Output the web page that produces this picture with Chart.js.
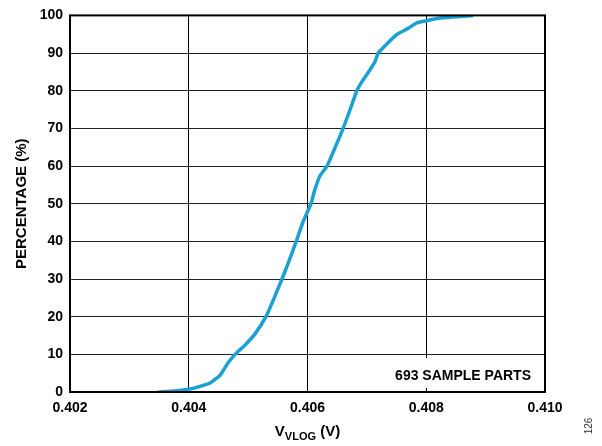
<!DOCTYPE html>
<html>
<head>
<meta charset="utf-8">
<script src="https://cdn.jsdelivr.net/npm/chart.js@4"></script>
<style>
  html, body { margin: 0; padding: 0; background: #fff; }
  #wrap { width: 602px; height: 446px; }
</style>
</head>
<body>
<div id="wrap"><canvas id="cdf"></canvas></div>
<script>
// VLOG values (V) and cumulative percentage
const vlog = [0.40348, 0.40377, 0.40402, 0.40419, 0.40436, 0.40453, 0.40466, 0.40478,
  0.40495, 0.40512, 0.40530, 0.40544, 0.40557, 0.40567, 0.40581, 0.40592, 0.40606,
  0.40611, 0.40621, 0.40633, 0.40643, 0.40660, 0.40675, 0.40683, 0.40692, 0.40700,
  0.40714, 0.40719, 0.40734, 0.40751, 0.40769, 0.40784, 0.40798, 0.40823, 0.40879];
const percent = [0, 0.3, 0.8, 1.5, 2.4, 4.5, 7.7, 10, 12.5, 15.5, 20, 25, 30, 34, 40,
  45, 50, 53, 57.4, 60, 63.6, 70, 76.4, 80, 82.5, 84.3, 87.8, 90, 92.5, 95, 96.5, 98,
  98.5, 99.3, 100];
const xTicks = [0.402, 0.404, 0.406, 0.408, 0.410];

const font = "'Liberation Sans', Arial, sans-serif";
const lineColor = '#1ba0d4';

// titles, note box and figure number
const extras = {
    id: 'extras',
    afterDraw(chart) {
        const ctx = chart.ctx;
        const area = chart.chartArea;
        ctx.save();
        ctx.fillStyle = '#000';
        ctx.textBaseline = 'middle';

        // note box
        ctx.font = 'bold 14px ' + font;
        const note = '693 SAMPLE PARTS';
        const w = ctx.measureText(note).width;
        ctx.fillStyle = '#fff';
        ctx.fillRect(area.right - w - 22, 358, w + 21, 30);
        ctx.fillStyle = '#000';
        ctx.textAlign = 'right';
        ctx.fillText(note, area.right - 14, 376);

        // x title with subscript
        const cx = (area.left + area.right) / 2;
        ctx.font = 'bold 11px ' + font;
        const sub = 'VLOG';
        const ws = ctx.measureText(sub).width;
        ctx.font = 'bold 15px ' + font;
        const a = 'V', b = ' (V)';
        const wa = ctx.measureText(a).width, wb = ctx.measureText(b).width;
        const x0 = cx - (wa + ws + wb) / 2;
        ctx.textAlign = 'left';
        ctx.fillText(a, x0, 432);
        ctx.font = 'bold 11px ' + font;
        ctx.fillText(sub, x0 + wa, 437);
        ctx.font = 'bold 15px ' + font;
        ctx.fillText(b, x0 + wa + ws, 432);

        // y title
        ctx.save();
        ctx.translate(22, (area.top + area.bottom) / 2);
        ctx.rotate(-Math.PI / 2);
        ctx.textAlign = 'center';
        ctx.fillText('PERCENTAGE (%)', 0, 0);
        ctx.restore();

        // figure number
        ctx.save();
        ctx.translate(589, 426);
        ctx.rotate(-Math.PI / 2);
        ctx.font = '10px ' + font;
        ctx.fillStyle = '#333';
        ctx.textAlign = 'center';
        ctx.fillText('126', 0, 0);
        ctx.restore();

        // frame on top
        ctx.strokeStyle = '#000';
        ctx.lineWidth = 2;
        ctx.strokeRect(area.left, area.top, area.right - area.left, area.bottom - area.top);
        ctx.restore();
    }
};

new Chart(document.getElementById('cdf'), {
    type: 'line',
    data: {
        datasets: [{
            data: vlog.map((v, i) => ({ x: v, y: percent[i] })),
            borderColor: lineColor,
            borderWidth: 3.5,
            pointRadius: 0,
            tension: 0.15,
            fill: false
        }]
    },
    options: {
        responsive: true,
        maintainAspectRatio: false,
        animation: false,
        layout: { padding: { left: 0, right: 57, top: 14, bottom: 0 } },
        plugins: { legend: { display: false }, tooltip: { enabled: false } },
        scales: {
            x: {
                type: 'linear',
                min: 0.402,
                max: 0.410,
                afterBuildTicks: s => { s.ticks = xTicks.map(v => ({ value: v })); },
                afterFit: s => { s.height = 54; },
                grid: { color: '#000', lineWidth: 1, drawTicks: false },
                border: { display: false },
                ticks: {
                    color: '#000',
                    padding: 8,
                    maxRotation: 0,
                    font: { family: font, size: 14, weight: 'bold' },
                    callback: v => v.toFixed(3)
                }
            },
            y: {
                min: 0,
                max: 100,
                afterFit: s => { s.width = 70; },
                grid: { color: '#222', lineWidth: 1, drawTicks: false },
                border: { display: false },
                ticks: {
                    stepSize: 10,
                    color: '#000',
                    padding: 7,
                    font: { family: font, size: 14, weight: 'bold' }
                }
            }
        }
    },
    plugins: [extras]
});
</script>
</body>
</html>
